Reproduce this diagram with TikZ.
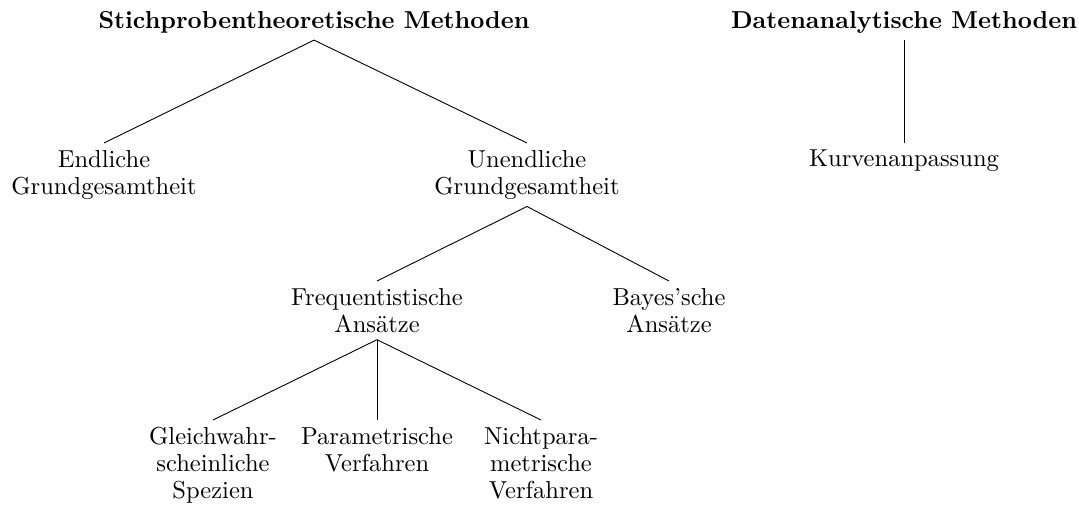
\documentclass[tikz,border=0pt]{standalone}
\begin{document}
\begin{tikzpicture}[x=0.4444pt,y=-0.4444pt,
  lbl/.style={align=center,inner sep=3pt,font=\fontsize{10.9}{12}\selectfont},
  root/.style={lbl,font=\fontsize{10.9}{12}\selectfont\bfseries},
  edge/.style={draw,line width=0.4pt}]
\useasboundingbox (0,0) rectangle (1079,504);
\node[root] (st) at (314,22) {Stichprobentheoretische Methoden};
\node[root] (da) at (904,22) {Datenanalytische Methoden};
\node[lbl,anchor=north] (en) at (104,143) {Endliche\\Grundgesamtheit};
\node[lbl,anchor=north] (un) at (527,143) {Unendliche\\Grundgesamtheit};
\node[lbl,anchor=north] (ku) at (904,143) {Kurvenanpassung};
\node[lbl,anchor=north] (fr) at (377,281) {Frequentistische\\Ansätze};
\node[lbl,anchor=north] (ba) at (669,281) {Bayes'sche\\Ansätze};
\node[lbl,anchor=north] (gl) at (213,420) {Gleichwahr-\\scheinliche\\Spezien};
\node[lbl,anchor=north] (pa) at (377,420) {Parametrische\\Verfahren};
\node[lbl,anchor=north] (ni) at (541,420) {Nichtpara-\\metrische\\Verfahren};
\draw[edge] (st.south) -- (en.north);
\draw[edge] (st.south) -- (un.north);
\draw[edge] (da.south) -- (ku.north);
\draw[edge] (un.south) -- (fr.north);
\draw[edge] (un.south) -- (ba.north);
\draw[edge] (fr.south) -- (gl.north);
\draw[edge] (fr.south) -- (pa.north);
\draw[edge] (fr.south) -- (ni.north);
\end{tikzpicture}
\end{document}
